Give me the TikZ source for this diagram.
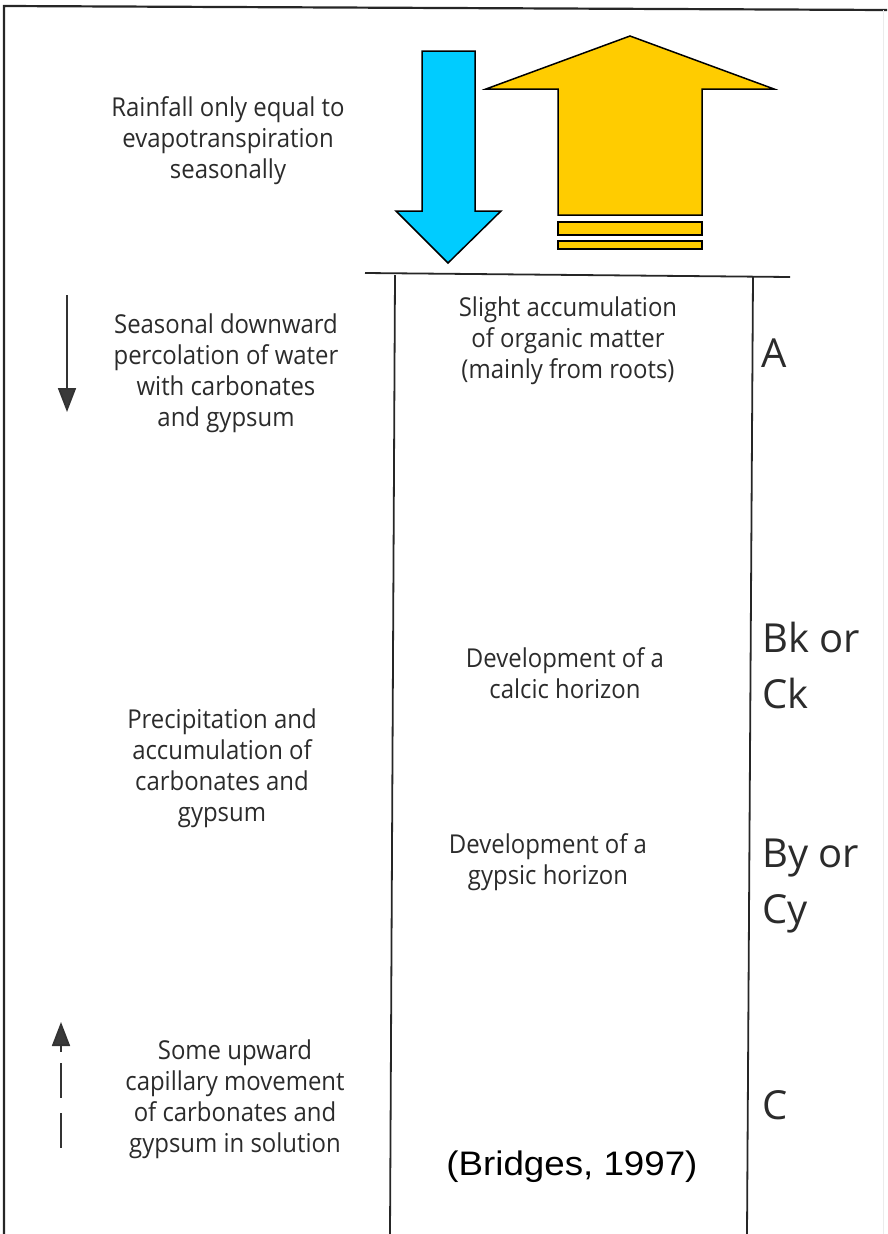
\documentclass[tikz,border=0pt]{standalone}
\usepackage{fontspec}
\setmainfont[FakeStretch=0.92]{Open Sans}
\newfontfamily\hzfont{Open Sans}
\newfontfamily\citefont[FakeStretch=1.08]{Liberation Sans}
\usetikzlibrary{arrows.meta}
\definecolor{txt}{HTML}{2B2B2B}
\definecolor{rainblue}{HTML}{00CCFF}
\definecolor{evapyellow}{HTML}{FFCC00}
\definecolor{tipgray}{HTML}{3A3A3A}
\begin{document}
\begin{tikzpicture}[x=1pt,y=-1pt,
  lbl/.style={align=center, text=txt, font=\fontsize{26}{31}\selectfont, inner sep=0pt},
  hz/.style={align=left, text=txt, font=\hzfont\fontsize{40}{56}\selectfont, inner sep=0pt, anchor=west},
  frameline/.style={line width=2.2pt, black!85},
  colline/.style={line width=1.8pt, black!85},
  bigarrow/.style={draw=black, line width=1.5pt, line join=miter},
  flowline/.style={line width=1.8pt, black!80},
  flowtip/.style={-{Triangle[length=24pt,width=18pt,fill=tipgray]}},
]
\useasboundingbox (0,0) rectangle (887,1234);

% outer frame (top and left edges, faint right edge)
\coordinate (fTL) at (4,6);
\coordinate (fTR) at (887,10);
\coordinate (fBL) at (4,1234);
\coordinate (fRT) at (883,10);
\coordinate (fRB) at (883,1234);
\draw[frameline] (fTR) -- (fTL) -- (fBL);
\draw[line width=1pt, black!8] (fRT) -- (fRB);

% soil profile column
\coordinate (sL) at (365,273);
\coordinate (sR) at (790,277);
\coordinate (cLt) at (395,275);
\coordinate (cLb) at (390,1234);
\coordinate (cRt) at (753,276);
\coordinate (cRb) at (747,1234);
\draw[colline] (sL) -- (sR);
\draw[colline] (cLt) -- (cLb);
\draw[colline] (cRt) -- (cRb);

% rainfall (down) and evapotranspiration (up) block arrows
\filldraw[bigarrow, fill=rainblue]
  (422,51) -- (475,51) -- (475,211) -- (501,211) -- (448,263) -- (396,211) -- (422,211) -- cycle;
\filldraw[bigarrow, fill=evapyellow]
  (630,36) -- (774,89) -- (702,89) -- (702,215) -- (558,215) -- (558,89) -- (486,89) -- cycle;
\filldraw[bigarrow, fill=evapyellow] (558,222) rectangle (702,235);
\filldraw[bigarrow, fill=evapyellow] (558,241) rectangle (702,249);

% left-hand process descriptions
\node[lbl] (rain) at (228,141) {Rainfall only equal to\\evapotranspiration\\seasonally};
\node[lbl] (perc) at (226,373) {Seasonal downward\\percolation of water\\with carbonates\\and gypsum};
\node[lbl] (prec) at (222,768) {Precipitation and\\accumulation of\\carbonates and\\gypsum};
\node[lbl] (capi) at (235,1099) {Some upward\\capillary movement\\of carbonates and\\gypsum in solution};

% descriptions inside the profile
\node[lbl] (orgm) at (568,341) {Slight accumulation\\of organic matter\\(mainly from roots)};
\node[lbl] (calc) at (565,673) {Development of a\\calcic horizon};
\node[lbl] (gyps) at (548,862) {Development of a\\gypsic horizon};

% horizon designations
\node[hz] (hA) at (761,353) {A};
\node[hz] (hBk) at (762,665) {Bk or\\Ck};
\node[hz] (hBy) at (762,886) {By or\\Cy};
\node[hz] (hC) at (762,1105) {C};

% downward percolation arrow
\coordinate (dTop) at (67,295);
\coordinate (dBot) at (67,412);
\draw[flowline, flowtip] (dTop) -- (dBot);

% upward capillary arrow (broken shaft)
\coordinate (uTip) at (61,1022);
\coordinate (uStem) at (61,1052);
\coordinate (uA1) at (61,1063);
\coordinate (uA2) at (61,1098);
\coordinate (uB1) at (61,1113);
\coordinate (uB2) at (61,1148);
\draw[flowline, flowtip] (uStem) -- (uTip);
\draw[flowline] (uA1) -- (uA2);
\draw[flowline] (uB1) -- (uB2);

% source
\node[inner sep=0pt, font=\citefont\fontsize{34}{40}\selectfont] (src) at (572,1167) {(Bridges, 1997)};
\end{tikzpicture}
\end{document}
